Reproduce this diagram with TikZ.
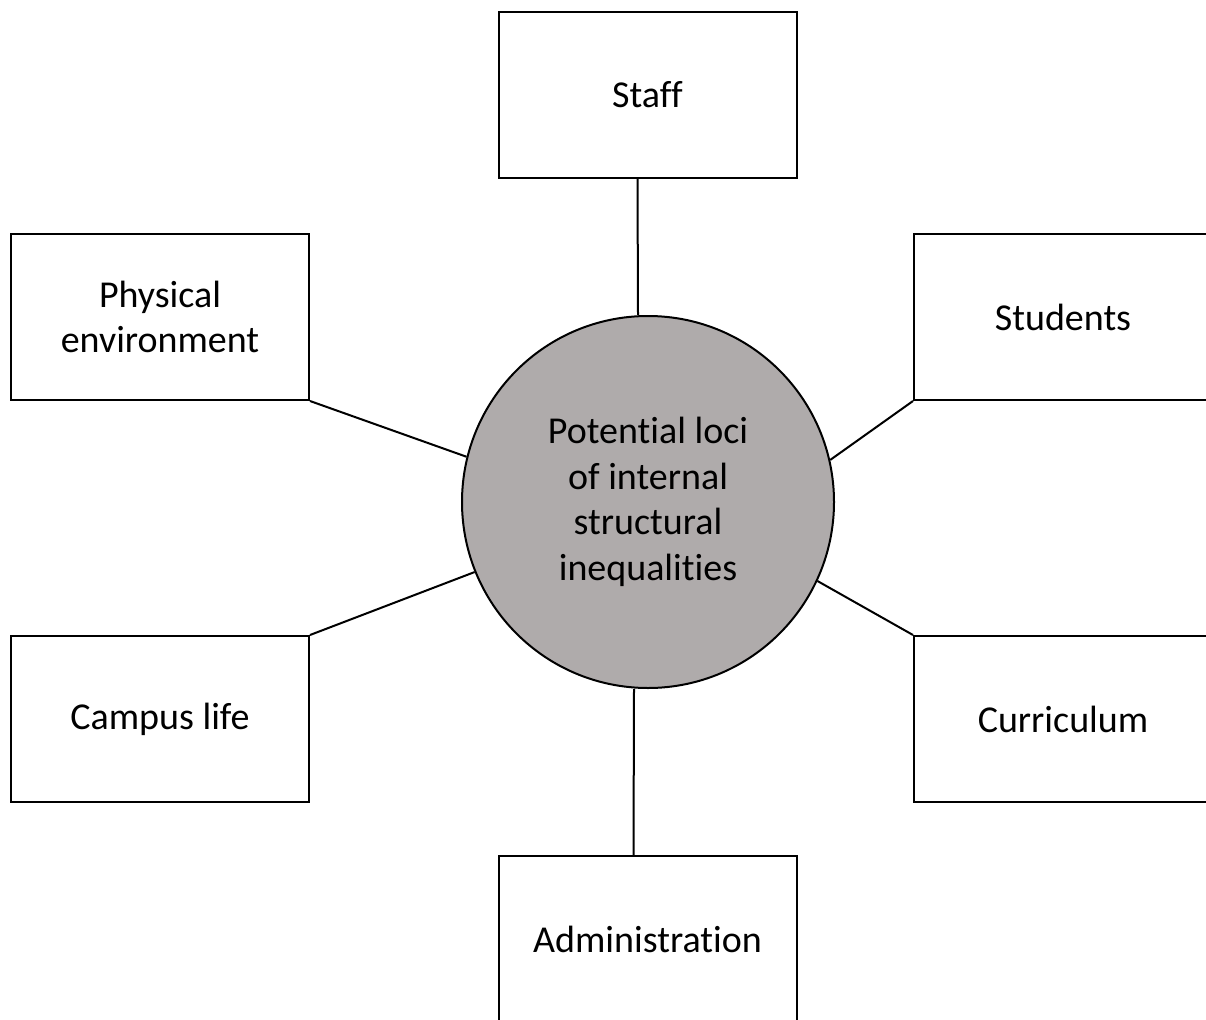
\documentclass[tikz,border=0pt]{standalone}
\usepackage{fontspec}
\setmainfont{Carlito}[Ligatures=NoCommon]
\definecolor{lociGray}{RGB}{175,171,171}
\newcommand\colorLine{black}
\newcommand\boxW{298pt}
\newcommand\boxH{166pt}
\tikzset{
	areabox/.style={draw=\colorLine, line width=2pt, fill=white,
		minimum width=\boxW, minimum height=\boxH, inner sep=0pt, align=center},
	locicircle/.style={circle, draw=\colorLine, line width=2pt, fill=lociGray,
		minimum size=372pt, inner sep=0pt, align=center},
	link/.style={draw=\colorLine, line width=2pt}
}

\begin{document}
\begin{tikzpicture}[x=1pt, y=-1pt, font=\fontsize{38}{45.5}\selectfont]
		\clip (0,0) rectangle (1206,1019);
		\useasboundingbox (0,0) rectangle (1206,1019);
		
		\node[locicircle] (loci) at (648,502) {Potential loci\\of internal\\structural\\inequalities};
		
		\node[areabox] (staff) at (647.5,95) {Staff};
		\node[areabox] (physical) at (160,317) {Physical\\environment};
		\node[areabox] (students) at (1063,317) {Students};
		\node[areabox] (campus) at (160,719) {Campus life};
		\node[areabox] (curriculum) at (1063,719) {Curriculum};
		\node[areabox] (admin) at (647.5,939) {Administration};
		
		% spokes
		\draw[link] ([xshift=-10pt]staff.south) -- ([xshift=-10pt]loci.north);
		\draw[link] ([xshift=-14pt]admin.north) -- ([xshift=-14pt]loci.south);
		\draw[link] (physical.south east) -- (loci.166);
		\draw[link] (campus.north east) -- (loci.202);
		\draw[link] (students.south west) -- (loci.13);
		\draw[link] (curriculum.north west) -- (loci.-25);
	\end{tikzpicture}
\end{document}
